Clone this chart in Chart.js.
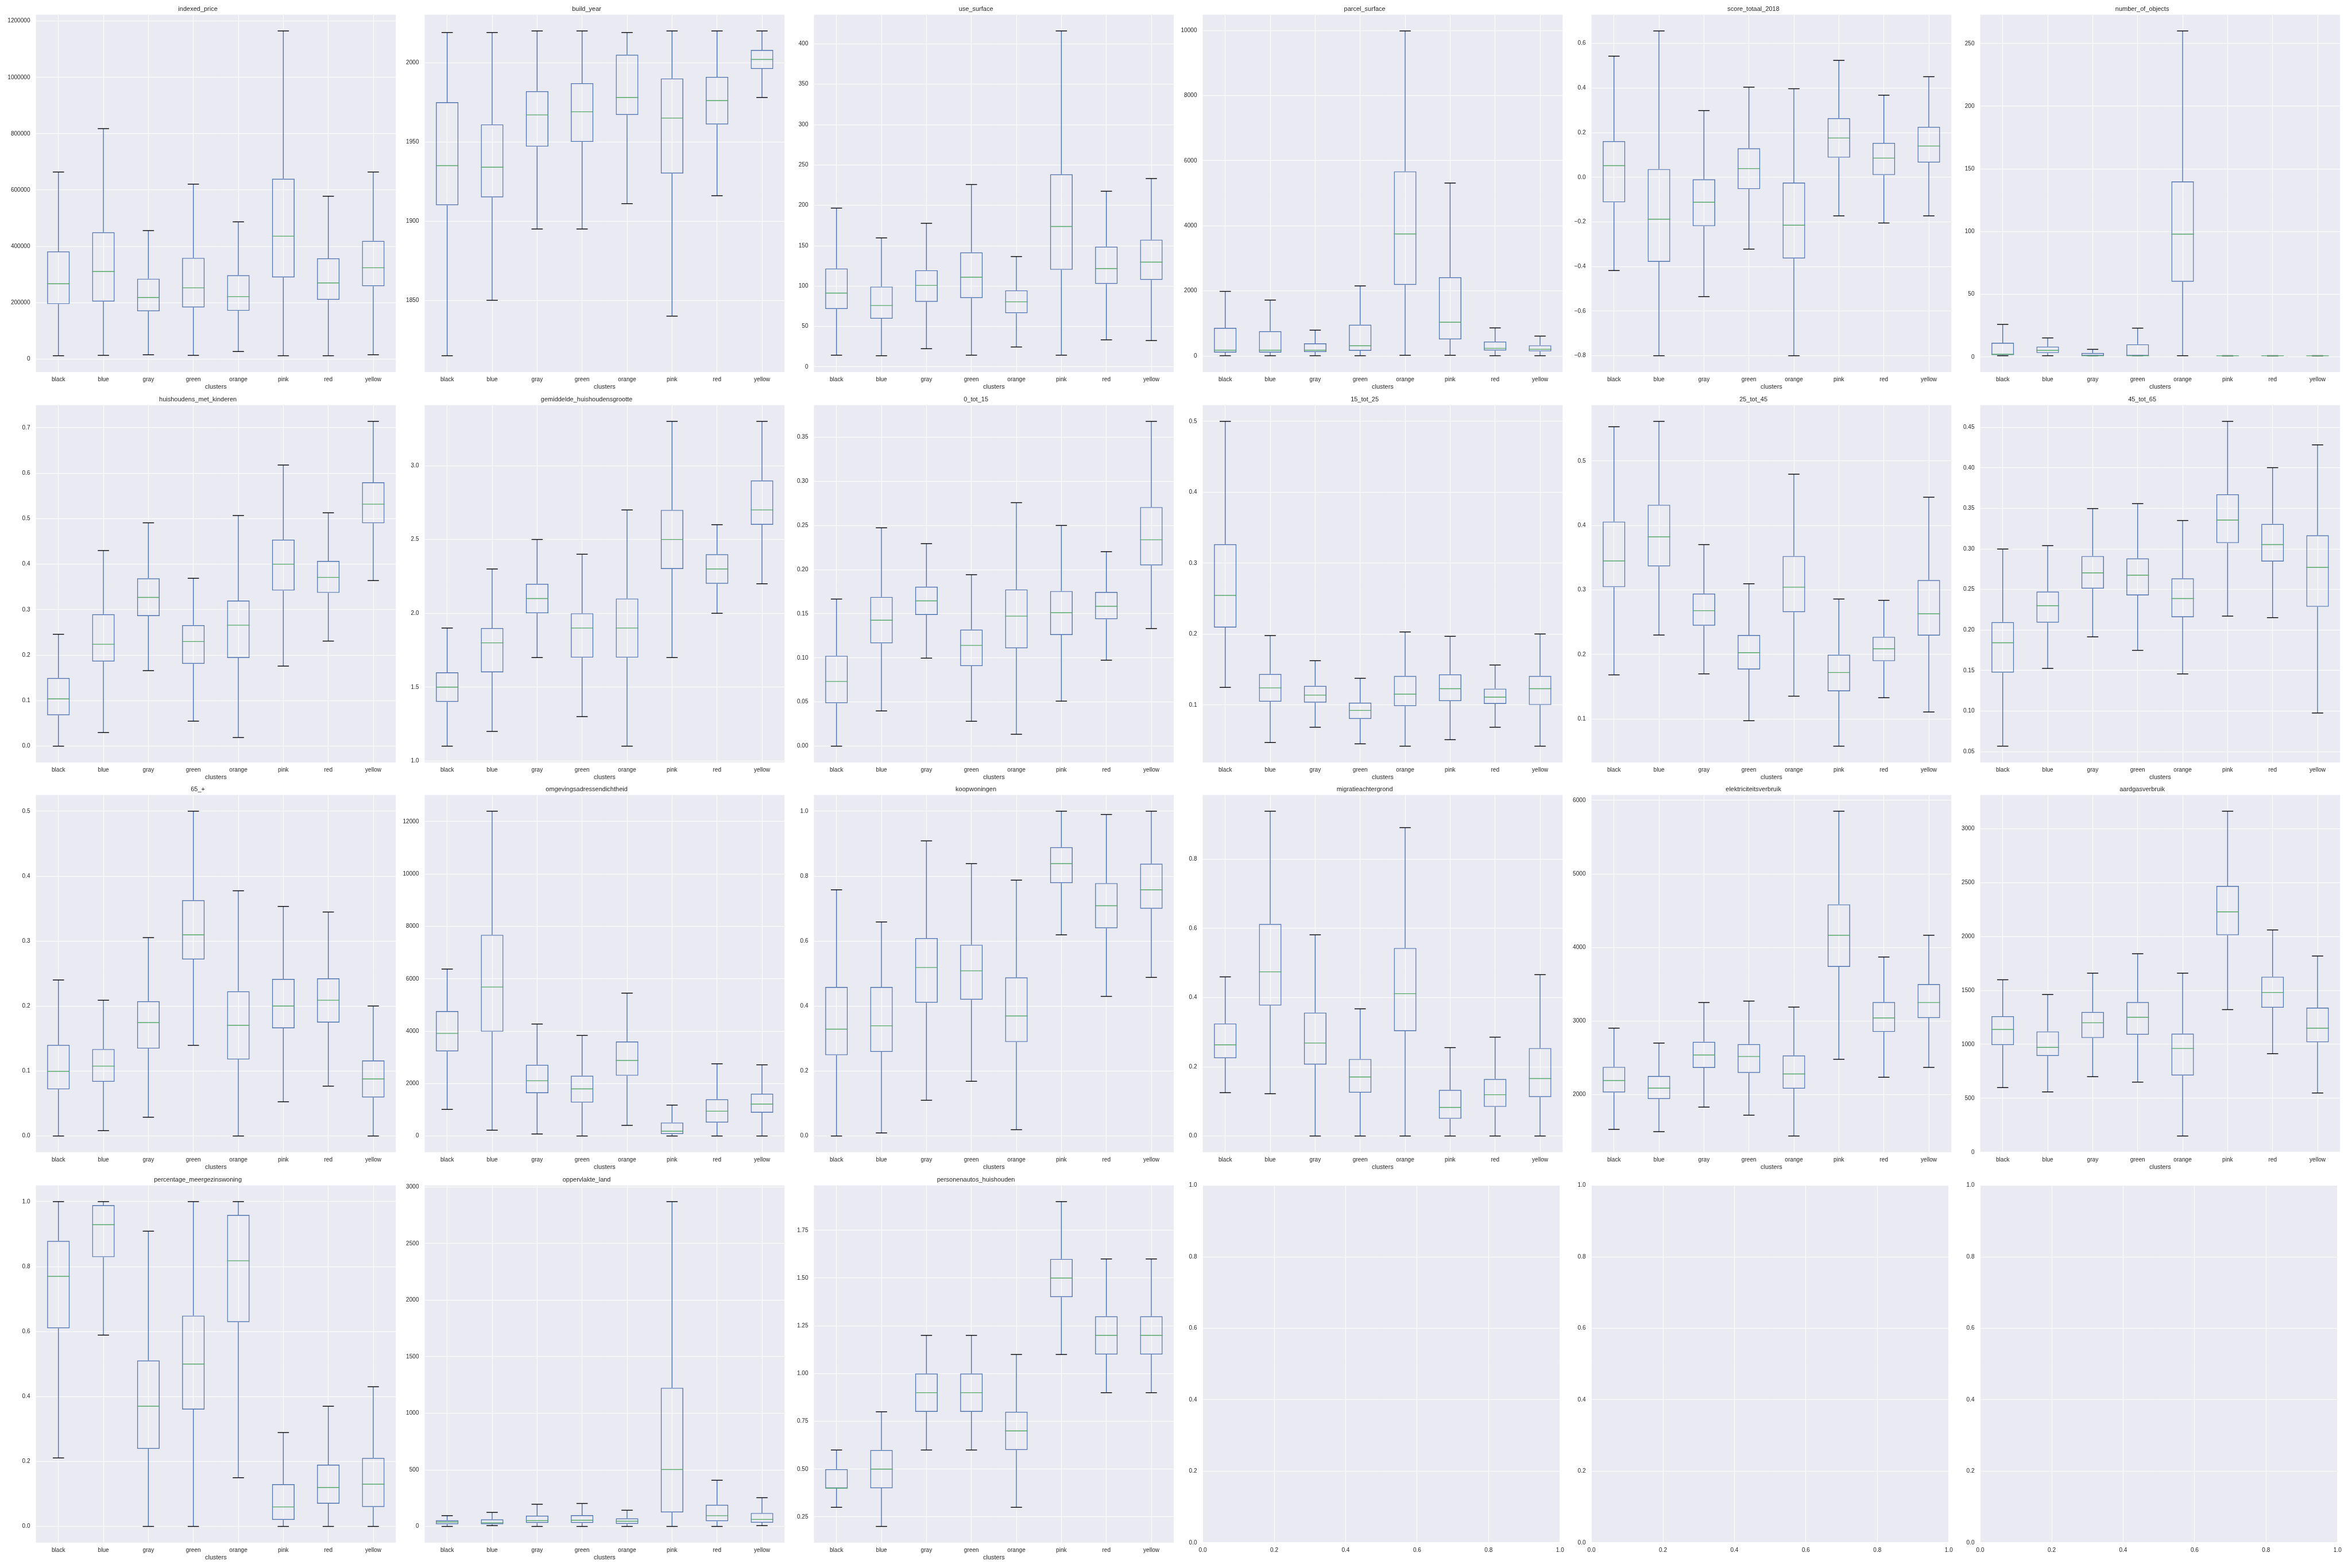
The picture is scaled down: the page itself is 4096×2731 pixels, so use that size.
<!DOCTYPE html>
<html><head><meta charset="utf-8">
<script src="https://cdn.jsdelivr.net/npm/chart.js@4.4.1/dist/chart.umd.min.js"></script>
<style>
html,body{margin:0;padding:0;background:#ffffff;width:4096px;height:2731px;overflow:hidden;position:relative}
canvas{position:absolute}
</style>
</head><body>
<script>
// ---------------- DATA ----------------
const categories = ["black","blue","gray","green","orange","pink","red","yellow"];
// each entry per cluster: [lower whisker, Q1, median, Q3, upper whisker]
const indexed_price = [[11500,195000,267000,382000,664000],[13000,204000,311000,450000,818000],[15000,169500,218000,285000,456000],[13000,183000,252500,359000,621000],[26500,171000,221500,297500,487000],[11500,289500,436000,640000,1165000],[11500,210000,270000,357500,578000],[15000,258500,324000,419500,664000]];
const build_year = [[1815,1910,1935,1975,2019],[1850,1915,1934,1961,2019],[1895,1947,1967,1982,2020],[1895,1950,1969,1987,2020],[1911,1967,1978,2005,2019],[1840,1930,1965,1990,2020],[1916,1961,1976,1991,2020],[1978,1996,2002,2008,2020]];
const use_surface = [[14.5,71.7,91.4,121.8,196.6],[13.8,59.7,76,99.4,159.7],[22.5,80.6,100.9,119.7,177.8],[14.5,85.2,111.1,141.8,225.8],[24.6,66.5,80.6,94.8,136.6],[14.5,120.3,173.8,238.5,416],[33.5,102.8,121.8,148.9,217.5],[32.6,107.7,129.8,157.5,233.2]];
const parcel_surface = [[8,107,176,863,1985],[8,107,176,763,1718],[8,122,176,389,794],[8,160,313,962,2153],[23,2183,3748,5672,9985],[23,511,1038,2420,5313],[8,168,237,443,863],[8,145,206,328,611]];
const score_totaal_2018 = [[-0.418,-0.112,0.052,0.162,0.543],[-0.8,-0.379,-0.188,0.037,0.656],[-0.535,-0.219,-0.112,-0.009,0.299],[-0.322,-0.053,0.039,0.130,0.404],[-0.8,-0.364,-0.215,-0.024,0.397],[-0.173,0.088,0.176,0.265,0.524],[-0.205,0.010,0.086,0.154,0.368],[-0.173,0.066,0.140,0.226,0.451]];
const number_of_objects = [[1,1.5,2.2,11.3,26],[1,3.2,5.3,8.3,15.2],[1,1,1,3.2,6.1],[1,1,1,10.1,23],[1,60,98,140,260],[1,1,1,1,1],[1,1,1,1,1],[1,1,1,1,1]];
const huishoudens_met_kinderen = [[0,0.068,0.104,0.150,0.246],[0.030,0.186,0.224,0.290,0.430],[0.166,0.286,0.327,0.369,0.491],[0.055,0.181,0.230,0.266,0.369],[0.019,0.194,0.266,0.320,0.507],[0.176,0.342,0.400,0.454,0.618],[0.231,0.337,0.371,0.407,0.513],[0.364,0.490,0.532,0.580,0.714]];
const gemiddelde_huishoudensgrootte = [[1.1,1.4,1.5,1.6,1.9],[1.2,1.6,1.8,1.9,2.3],[1.7,2.0,2.1,2.2,2.5],[1.3,1.7,1.9,2.0,2.4],[1.1,1.7,1.9,2.1,2.7],[1.7,2.3,2.5,2.7,3.3],[2.0,2.2,2.3,2.4,2.6],[2.2,2.6,2.7,2.9,3.3]];
const t0_tot_15 = [[0,0.0487,0.0733,0.1024,0.1666],[0.0399,0.1165,0.1426,0.169,0.2473],[0.0997,0.1487,0.1646,0.1807,0.2294],[0.0282,0.0907,0.1141,0.132,0.1942],[0.0135,0.1109,0.1473,0.1775,0.2758],[0.051,0.1259,0.1511,0.1757,0.25],[0.0974,0.1438,0.1584,0.1746,0.2203],[0.1332,0.2048,0.2338,0.2708,0.3679]];
const t15_tot_25 = [[0.1248,0.2092,0.2545,0.3268,0.5],[0.047,0.1047,0.1241,0.1438,0.1979],[0.0686,0.1033,0.1139,0.127,0.1625],[0.0452,0.0803,0.0923,0.1033,0.1376],[0.0419,0.0985,0.1153,0.1409,0.203],[0.051,0.1055,0.123,0.1431,0.1968],[0.0686,0.1015,0.111,0.123,0.1563],[0.0419,0.1,0.123,0.1409,0.2001]];
const t25_tot_45 = [[0.1683,0.3044,0.345,0.406,0.553],[0.2301,0.3365,0.3823,0.4321,0.5614],[0.1699,0.2446,0.2679,0.2944,0.3703],[0.0972,0.1767,0.2028,0.2301,0.3096],[0.1353,0.2655,0.3044,0.3526,0.4795],[0.0578,0.143,0.1719,0.1996,0.2859],[0.1329,0.1896,0.2088,0.2273,0.2839],[0.1108,0.2293,0.2631,0.3153,0.4438]];
const t45_tot_65 = [[0.0567,0.1474,0.1842,0.2097,0.2998],[0.1526,0.2091,0.2299,0.2474,0.304],[0.1915,0.251,0.2704,0.2912,0.3497],[0.1749,0.2427,0.2676,0.2883,0.3558],[0.1458,0.2158,0.2388,0.2637,0.335],[0.2171,0.3072,0.3356,0.3673,0.4573],[0.2152,0.2845,0.3053,0.3308,0.4002],[0.0976,0.2286,0.2772,0.3168,0.4283]];
const t65_plus = [[0,0.0718,0.0995,0.1404,0.2402],[0.0082,0.0835,0.1076,0.1338,0.209],[0.0289,0.1346,0.1747,0.2075,0.3054],[0.1396,0.2718,0.3097,0.3631,0.5],[0,0.1178,0.1704,0.2227,0.3775],[0.0527,0.1658,0.2001,0.2418,0.3534],[0.0768,0.1747,0.209,0.2426,0.3448],[0,0.0593,0.0878,0.1162,0.2001]];
const omgevingsadressendichtheid = [[1015,3230,3916,4767,6372],[222,3984,5686,7678,12397],[77,1634,2108,2717,4274],[0,1276,1799,2301,3839],[406,2301,2882,3607,5454],[0,77,184,513,1180],[0,513,948,1402,2756],[0,890,1218,1615,2717]];
const koopwoningen = [[0,0.2488,0.329,0.4587,0.758],[0.0094,0.259,0.3393,0.4587,0.659],[0.11,0.4103,0.5187,0.6092,0.9087],[0.1685,0.4197,0.5086,0.5889,0.8385],[0.0195,0.2894,0.3697,0.4883,0.7878],[0.6193,0.7785,0.8385,0.8892,1.0],[0.4298,0.6396,0.709,0.7785,0.9899],[0.4883,0.6997,0.758,0.8385,1.0]];
const migratieachtergrond = [[0.1252,0.2247,0.2635,0.325,0.4597],[0.1222,0.3769,0.4743,0.6126,0.9383],[0,0.2064,0.2686,0.3564,0.5812],[0,0.1252,0.1705,0.2225,0.3674],[0,0.303,0.4113,0.5431,0.8908],[0,0.0498,0.0827,0.1332,0.2554],[0,0.0842,0.1193,0.1647,0.2855],[0,0.1127,0.1661,0.254,0.4662]];
const elektriciteitsverbruik = [[1525,2028,2189,2375,2902],[1494,1938,2086,2251,2699],[1828,2361,2537,2716,3250],[1718,2293,2516,2685,3270],[1435,2079,2279,2530,3188],[2478,3735,4165,4585,5852],[2234,2850,3040,3256,3869],[2368,3040,3250,3501,4165]];
const aardgasverbruik = [[599,993,1138,1261,1599],[559,892,972,1120,1462],[700,1059,1200,1300,1660],[650,1089,1251,1392,1840],[150,711,962,1099,1660],[1322,2012,2228,2469,3162],[913,1340,1481,1627,2061],[549,1019,1150,1340,1819]];
const percentage_meergezinswoning = [[0.2108,0.61,0.77,0.879,1.0],[0.589,0.829,0.929,0.989,1.0],[0,0.239,0.37,0.511,0.909],[0,0.36,0.5,0.649,1.0],[0.15,0.629,0.818,0.959,1.0],[0,0.02,0.06,0.13,0.289],[0,0.07,0.12,0.19,0.37],[0,0.06,0.13,0.2108,0.43]];
const oppervlakte_land = [[0,20,40,55,95],[7,20,33,62,124],[0,31,51,95,196],[0,31,55,99,203],[0,22,46,71,143],[0,124,503,1225,2870],[0,46,95,192,408],[7,33,62,119,254]];
const personenautos_huishouden = [[0.3,0.4,0.4,0.5,0.6],[0.2,0.4,0.5,0.6,0.8],[0.6,0.8,0.9,1.0,1.2],[0.6,0.8,0.9,1.0,1.2],[0.3,0.6,0.7,0.8,1.1],[1.1,1.4,1.5,1.6,1.9],[0.9,1.1,1.2,1.3,1.6],[0.9,1.1,1.2,1.3,1.6]];

// tick labels
const ticks_indexed_price = ["0","200000","400000","600000","800000","1000000","1200000"];
const ticks_build_year = ["1850","1900","1950","2000"];
const ticks_use_surface = ["0","50","100","150","200","250","300","350","400"];
const ticks_parcel_surface = ["0","2000","4000","6000","8000","10000"];
const ticks_score = ["\u22120.8","\u22120.6","\u22120.4","\u22120.2","0.0","0.2","0.4","0.6"];
const ticks_objects = ["0","50","100","150","200","250"];
const ticks_kinderen = ["0.0","0.1","0.2","0.3","0.4","0.5","0.6","0.7"];
const ticks_grootte = ["1.0","1.5","2.0","2.5","3.0"];
const ticks_0_15 = ["0.00","0.05","0.10","0.15","0.20","0.25","0.30","0.35"];
const ticks_15_25 = ["0.1","0.2","0.3","0.4","0.5"];
const ticks_25_45 = ["0.1","0.2","0.3","0.4","0.5"];
const ticks_45_65 = ["0.05","0.10","0.15","0.20","0.25","0.30","0.35","0.40","0.45"];
const ticks_65 = ["0.0","0.1","0.2","0.3","0.4","0.5"];
const ticks_omgeving = ["0","2000","4000","6000","8000","10000","12000"];
const ticks_koop = ["0.0","0.2","0.4","0.6","0.8","1.0"];
const ticks_migratie = ["0.0","0.2","0.4","0.6","0.8"];
const ticks_elek = ["2000","3000","4000","5000","6000"];
const ticks_gas = ["0","500","1000","1500","2000","2500","3000"];
const ticks_meergezins = ["0.0","0.2","0.4","0.6","0.8","1.0"];
const ticks_opp = ["0","500","1000","1500","2000","2500","3000"];
const ticks_autos = ["0.25","0.50","0.75","1.00","1.25","1.50","1.75"];
const ticks_empty = ["0.0","0.2","0.4","0.6","0.8","1.0"];

const titles = ["indexed_price","build_year","use_surface","parcel_surface","score_totaal_2018","number_of_objects",
  "huishoudens_met_kinderen","gemiddelde_huishoudensgrootte","0_tot_15","15_tot_25","25_tot_45","45_tot_65",
  "65_+","omgevingsadressendichtheid","koopwoningen","migratieachtergrond","elektriciteitsverbruik","aardgasverbruik",
  "percentage_meergezinswoning","oppervlakte_land","personenautos_huishouden"];
const panelStats = [indexed_price,build_year,use_surface,parcel_surface,score_totaal_2018,number_of_objects,
  huishoudens_met_kinderen,gemiddelde_huishoudensgrootte,t0_tot_15,t15_tot_25,t25_tot_45,t45_tot_65,
  t65_plus,omgevingsadressendichtheid,koopwoningen,migratieachtergrond,elektriciteitsverbruik,aardgasverbruik,
  percentage_meergezinswoning,oppervlakte_land,personenautos_huishouden];
const panelTicks = [ticks_indexed_price,ticks_build_year,ticks_use_surface,ticks_parcel_surface,ticks_score,ticks_objects,
  ticks_kinderen,ticks_grootte,ticks_0_15,ticks_15_25,ticks_25_45,ticks_45_65,
  ticks_65,ticks_omgeving,ticks_koop,ticks_migratie,ticks_elek,ticks_gas,
  ticks_meergezins,ticks_opp,ticks_autos];

// ---------------- STYLE / LAYOUT ----------------
const S = 0.948;
const COL_STEP = 714.4, ROW_STEP = 717;
const Y_LABEL_W = 66, TITLE_H = 27, AX_W = 661, AX_H = 656, X_AXIS_H = 36, RIGHT_PAD = 10;
const FONT = '"Liberation Sans", Arial, "DejaVu Sans", sans-serif';
const TXT = '#262626';
const BG = '#EAEAF2';
const BOX = '#4C72B0', MED = '#55A868', CAP = '#000000';
const TICK_SIZE = 10.1, TITLE_SIZE = 11;
const LW = 1.4;

const toNum = t => parseFloat(t.replace('\u2212', '-'));

const boxPlugin = {
  id: 'boxExtras',
  beforeDraw(chart) {
    const a = chart.chartArea, ctx = chart.ctx;
    ctx.save();
    ctx.fillStyle = BG;
    ctx.fillRect(a.left, a.top, a.right - a.left, a.bottom - a.top);
    ctx.restore();
  },
  afterDatasetsDraw(chart) {
    const ds = chart.data.datasets[0];
    if (!ds || !ds.stats) return;
    const ctx = chart.ctx, y = chart.scales.y;
    const meta = chart.getDatasetMeta(0);
    const line = (x1, y1, x2, y2, c) => {
      ctx.strokeStyle = c; ctx.beginPath(); ctx.moveTo(x1, y1); ctx.lineTo(x2, y2); ctx.stroke();
    };
    ctx.save();
    ctx.lineWidth = LW;
    ds.stats.forEach((s, i) => {
      const el = meta.data[i];
      const cx = el.x, w = el.width;
      const lo = y.getPixelForValue(s[0]), q1 = y.getPixelForValue(s[1]), md = y.getPixelForValue(s[2]),
            q3 = y.getPixelForValue(s[3]), hi = y.getPixelForValue(s[4]);
      line(cx, q1, cx, lo, BOX);
      line(cx, q3, cx, hi, BOX);
      line(cx - w / 4, lo, cx + w / 4, lo, CAP);
      line(cx - w / 4, hi, cx + w / 4, hi, CAP);
      line(cx - w / 2, md, cx + w / 2, md, MED);
    });
    ctx.restore();
  }
};

function makeCanvas(col, row) {
  const c = document.createElement('canvas');
  const w = Math.round((Y_LABEL_W + AX_W + RIGHT_PAD) * S);
  const h = Math.round((TITLE_H + AX_H + X_AXIS_H) * S);
  c.width = w; c.height = h;
  c.style.width = w + 'px'; c.style.height = h + 'px';
  c.style.left = Math.round(col * COL_STEP * S) + 'px';
  c.style.top = Math.round(row * ROW_STEP * S) + 'px';
  document.body.appendChild(c);
  return { c, w, h };
}

function valueScale(labels, min, max, axis) {
  const vals = labels.map(toNum);
  const cfg = {
    type: 'linear', min, max,
    grid: { color: '#ffffff', lineWidth: 1, drawTicks: false },
    border: { display: false },
    ticks: {
      color: TXT, font: { family: FONT, size: TICK_SIZE }, autoSkip: false, maxRotation: 0,
      padding: axis === 'y' ? 10 : 7.2,
      callback: (v) => {
        const k = vals.findIndex(t => Math.abs(t - v) < 1e-9 * Math.max(1, Math.abs(t)));
        return k >= 0 ? labels[k] : '';
      }
    },
    afterBuildTicks(sc) {
      const eps = (max - min) * 1e-9;
      sc.ticks = vals.filter(v => v >= min - eps && v <= max + eps).map(v => ({ value: v }));
    }
  };
  if (axis === 'y') cfg.afterFit = (sc) => { sc.width = Y_LABEL_W * S; };
  else cfg.afterFit = (sc) => { sc.height = X_AXIS_H * S; };
  return cfg;
}

function boxPanel(idx) {
  const col = idx % 6, row = Math.floor(idx / 6);
  const { c, w } = makeCanvas(col, row);
  const stats = panelStats[idx];
  let lo = Infinity, hi = -Infinity;
  stats.forEach(s => { lo = Math.min(lo, s[0]); hi = Math.max(hi, s[4]); });
  const m = (hi - lo) * 0.05;
  const min = lo - m, max = hi + m;
  const rightPad = w - Y_LABEL_W * S - AX_W * S;
  new Chart(c, {
    type: 'bar',
    data: {
      labels: categories,
      datasets: [{
        data: stats.map(s => [s[1], s[3]]),
        stats: stats,
        backgroundColor: 'rgba(0,0,0,0)',
        borderColor: BOX, borderWidth: LW, borderSkipped: false,
        barPercentage: 0.5, categoryPercentage: 1.0
      }]
    },
    options: {
      responsive: false, animation: false, devicePixelRatio: 1,
      layout: { padding: { left: 0, right: rightPad, top: 0, bottom: 0 } },
      plugins: {
        legend: { display: false }, tooltip: { enabled: false },
        title: { display: true, text: titles[idx], color: TXT,
          font: { family: FONT, size: TITLE_SIZE, weight: 'normal', lineHeight: 1.2 },
          padding: { top: 9.5, bottom: TITLE_H * S - 9.5 - TITLE_SIZE * 1.2 } }
      },
      scales: {
        x: {
          type: 'category', offset: true,
          grid: { color: '#ffffff', lineWidth: 1, offset: false, drawTicks: false },
          border: { display: false },
          ticks: { autoSkip: false, maxRotation: 0, color: TXT, font: { family: FONT, size: TICK_SIZE }, padding: 7.2 },
          title: { display: true, text: 'clusters', color: TXT, font: { family: FONT, size: TITLE_SIZE, lineHeight: 1.2 }, padding: { top: 0, bottom: 1.9 } },
          afterFit(sc) { sc.height = X_AXIS_H * S; }
        },
        y: valueScale(panelTicks[idx], min, max, 'y')
      }
    },
    plugins: [boxPlugin]
  });
}

function emptyPanel(idx) {
  const col = idx % 6, row = Math.floor(idx / 6);
  const { c, w } = makeCanvas(col, row);
  const rightPad = w - Y_LABEL_W * S - AX_W * S;
  new Chart(c, {
    type: 'scatter',
    data: { datasets: [] },
    options: {
      responsive: false, animation: false, devicePixelRatio: 1,
      layout: { padding: { left: 0, right: rightPad, top: TITLE_H * S, bottom: 0 } },
      plugins: { legend: { display: false }, tooltip: { enabled: false }, title: { display: false } },
      scales: {
        x: valueScale(ticks_empty, 0, 1, 'x'),
        y: valueScale(ticks_empty, 0, 1, 'y')
      }
    },
    plugins: [boxPlugin]
  });
}

for (let i = 0; i < 24; i++) {
  if (i < panelStats.length) boxPanel(i); else emptyPanel(i);
}
</script>
</body></html>
